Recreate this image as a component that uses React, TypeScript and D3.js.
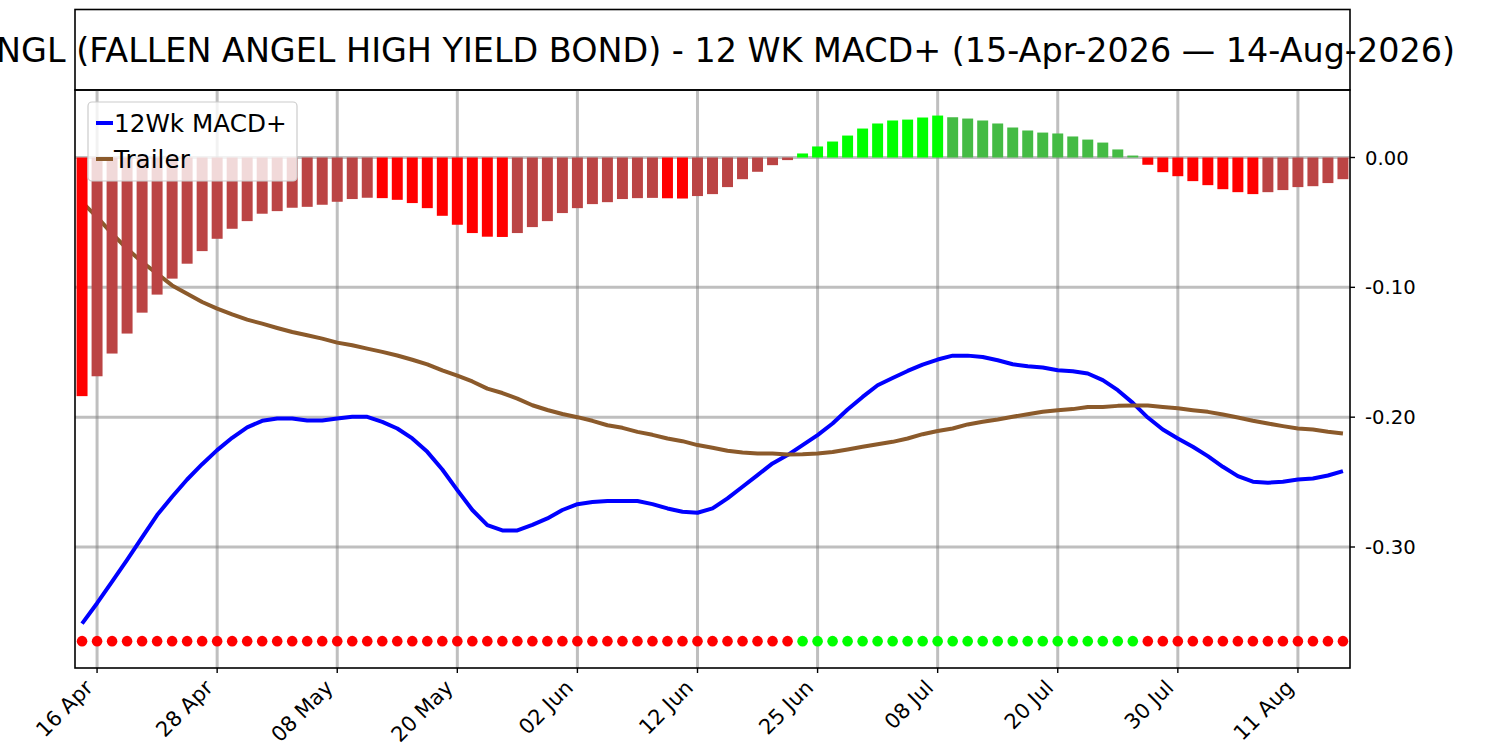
import React from "react"
import * as d3 from "d3"

// trading days, 15-Apr-2026 .. 14-Aug-2026
const days: string[] = [
  "2026-04-15","2026-04-16","2026-04-17","2026-04-20","2026-04-21","2026-04-22","2026-04-23","2026-04-24","2026-04-27","2026-04-28","2026-04-29","2026-04-30",
  "2026-05-01","2026-05-04","2026-05-05","2026-05-06","2026-05-07","2026-05-08","2026-05-11","2026-05-12","2026-05-13","2026-05-14","2026-05-15","2026-05-18","2026-05-19","2026-05-20","2026-05-21","2026-05-22","2026-05-26","2026-05-27","2026-05-28","2026-05-29",
  "2026-06-01","2026-06-02","2026-06-03","2026-06-04","2026-06-05","2026-06-08","2026-06-09","2026-06-10","2026-06-11","2026-06-12","2026-06-15","2026-06-16","2026-06-17","2026-06-18","2026-06-22","2026-06-23","2026-06-24","2026-06-25","2026-06-26","2026-06-29","2026-06-30",
  "2026-07-01","2026-07-02","2026-07-06","2026-07-07","2026-07-08","2026-07-09","2026-07-10","2026-07-13","2026-07-14","2026-07-15","2026-07-16","2026-07-17","2026-07-20","2026-07-21","2026-07-22","2026-07-23","2026-07-24","2026-07-27","2026-07-28","2026-07-29","2026-07-30","2026-07-31",
  "2026-08-03","2026-08-04","2026-08-05","2026-08-06","2026-08-07","2026-08-10","2026-08-11","2026-08-12","2026-08-13","2026-08-14",
]

const tickDays = ["2026-04-16","2026-04-28","2026-05-08","2026-05-20","2026-06-02","2026-06-12","2026-06-25","2026-07-08","2026-07-20","2026-07-30","2026-08-11"]
const yTicks = [0, -0.1, -0.2, -0.3]

const histogram = [
  -0.1838,-0.1685,-0.151,-0.1356,-0.1195,-0.1056,-0.0933,-0.0818,-0.0721,-0.0626,
  -0.0549,-0.049,-0.0433,-0.0413,-0.0387,-0.038,-0.0364,-0.0341,-0.032,-0.031,
  -0.0313,-0.0326,-0.0351,-0.039,-0.0449,-0.0518,-0.0582,-0.061,-0.0612,-0.0582,
  -0.0536,-0.049,-0.0428,-0.039,-0.0359,-0.0344,-0.032,-0.0313,-0.0311,-0.0314,
  -0.0316,-0.0297,-0.0282,-0.0228,-0.0167,-0.011,-0.0059,-0.002,0.0031,0.0085,
  0.0123,0.0169,0.0223,0.0262,0.0285,0.0292,0.0308,0.0323,0.031,0.03,
  0.0285,0.0262,0.0231,0.0208,0.0192,0.0185,0.0162,0.0138,0.0115,0.0062,
  0.0015,-0.0056,-0.0113,-0.0144,-0.0182,-0.0213,-0.0244,-0.0267,-0.0282,-0.0267,
  -0.0251,-0.0228,-0.0221,-0.0197,-0.0167,
]

const macd = [
  -0.359,-0.3433,-0.3267,-0.31,-0.2926,-0.2754,-0.2613,-0.248,-0.2362,-0.2254,
  -0.2159,-0.2079,-0.2028,-0.201,-0.201,-0.2026,-0.2026,-0.201,-0.1997,-0.1997,
  -0.2036,-0.2087,-0.2164,-0.2267,-0.2403,-0.2562,-0.2715,-0.2831,-0.2872,-0.2872,
  -0.283,-0.278,-0.2715,-0.267,-0.2654,-0.2646,-0.2646,-0.2646,-0.267,-0.2703,
  -0.2728,-0.2736,-0.2703,-0.2626,-0.2536,-0.2446,-0.2356,-0.2292,-0.2215,-0.2138,
  -0.2049,-0.1941,-0.1844,-0.1754,-0.1698,-0.1644,-0.1595,-0.1556,-0.1526,-0.1526,
  -0.1536,-0.1562,-0.1592,-0.1608,-0.1618,-0.1638,-0.1646,-0.1664,-0.1715,-0.1792,
  -0.189,-0.2003,-0.2095,-0.2164,-0.2228,-0.23,-0.2382,-0.2454,-0.2497,-0.2505,
  -0.2497,-0.248,-0.2472,-0.2449,-0.2415,
]

const trailer = [
  -0.0344,-0.0459,-0.0587,-0.0703,-0.0805,-0.0895,-0.0985,-0.1049,-0.1113,-0.1164,
  -0.1208,-0.1249,-0.128,-0.1313,-0.1344,-0.1369,-0.1395,-0.1426,-0.1446,-0.1472,
  -0.1497,-0.1525,-0.1558,-0.1594,-0.164,-0.168,-0.1725,-0.178,-0.1814,-0.1857,
  -0.1908,-0.1945,-0.1976,-0.2,-0.2028,-0.2062,-0.2082,-0.2113,-0.2136,-0.2164,
  -0.2185,-0.2215,-0.2236,-0.2259,-0.2272,-0.228,-0.228,-0.2287,-0.2285,-0.228,
  -0.2269,-0.2249,-0.2228,-0.2208,-0.219,-0.2164,-0.2131,-0.2106,-0.2087,-0.2056,
  -0.2036,-0.2018,-0.1997,-0.1977,-0.1959,-0.1946,-0.1938,-0.1921,-0.1921,-0.1913,
  -0.191,-0.191,-0.1921,-0.1931,-0.1946,-0.1959,-0.198,-0.2003,-0.2028,-0.2049,
  -0.2069,-0.2087,-0.2095,-0.2113,-0.2126,
]

const dotLevel = -0.3725
const title = "FANGL (FALLEN ANGEL HIGH YIELD BOND) - 12 WK MACD+ (15-Apr-2026 \u2014 14-Aug-2026)"

const W = 1500
const H = 750
const left = 75
const right = 1350
const top = 90
const bottom = 668
const font = "DejaVu Sans, sans-serif"

const fmtTick = d3.timeFormat("%d %b")
const fmtY = (v: number) => d3.format(".2f")(v).replace("\u2212", "-")

const barColor = (v: number, i: number) => {
  const prev = i > 0 ? histogram[i - 1] : 0
  if (v >= 0) return v > prev || i === 0 ? "#00ff00" : "#44bb44"
  return v < prev || i === 0 ? "#ff0000" : "#bb4444"
}

const App: React.FC = () => {
  const n = days.length
  const x = d3.scaleLinear().domain([-0.47, n - 1 + 0.47]).range([left, right])
  const y = d3.scaleLinear().domain([-0.3, 0]).range([547, 157.5])
  const bw = (x(1) - x(0)) * 0.73

  const line = d3.line<number>()
    .x((d, i) => x(i))
    .y(d => y(d))

  const ticks = tickDays.map(t => days.indexOf(t))
  const parse = d3.timeParse("%Y-%m-%d")

  return (
    <svg width={W} height={H} style={{ position: "absolute", left: 0, top: 0 }} fontFamily={font}>
      <rect x={0} y={0} width={W} height={H} fill="white" />

      {/* title box */}
      <rect x={left} y={9.5} width={right - left} height={top - 9.5} fill="white" stroke="black" strokeWidth={1.6} />
      <text x={706} y={61.5} textAnchor="middle" fontSize={33.4} fill="black">{title}</text>

      <defs>
        <clipPath id="plot">
          <rect x={left} y={top} width={right - left} height={bottom - top} />
        </clipPath>
      </defs>

      <g clipPath="url(#plot)">
        {/* grid */}
        {ticks.map(i => (
          <line key={"gx" + i} x1={x(i)} x2={x(i)} y1={top} y2={bottom} stroke="#808080" strokeOpacity={0.5} strokeWidth={3} />
        ))}
        {yTicks.map(t => (
          <line key={"gy" + t} x1={left} x2={right} y1={y(t)} y2={y(t)} stroke="#808080" strokeOpacity={0.5} strokeWidth={3} />
        ))}

        <path d={line(macd) || ""} fill="none" stroke="#0000ff" strokeWidth={4} strokeLinejoin="round" />
        <path d={line(trailer) || ""} fill="none" stroke="#8b5a2b" strokeWidth={4} strokeLinejoin="round" />

        {histogram.map((v, i) => (
          <rect key={"b" + i} x={x(i) - bw / 2} width={bw}
            y={Math.min(y(v), y(0))} height={Math.abs(y(v) - y(0))}
            fill={barColor(v, i)} />
        ))}

        {histogram.map((v, i) => (
          <circle key={"d" + i} cx={x(i)} cy={y(dotLevel)} r={5.3} fill={v > 0 ? "#00ff00" : "#ff0000"} />
        ))}
      </g>

      {/* spines */}
      <rect x={left} y={top} width={right - left} height={bottom - top} fill="none" stroke="black" strokeWidth={1.6} />

      {/* x ticks */}
      {ticks.map(i => (
        <g key={"xt" + i}>
          <line x1={x(i)} x2={x(i)} y1={bottom} y2={bottom + 5} stroke="black" strokeWidth={1.4} />
          <text transform={`translate(${x(i) - 3},${bottom + 21}) rotate(-45)`} textAnchor="end" fontSize={21} fill="black">
            {fmtTick(parse(days[i]) as Date)}
          </text>
        </g>
      ))}

      {/* y ticks, right side */}
      {yTicks.map(t => (
        <g key={"yt" + t}>
          <line x1={right} x2={right + 5} y1={y(t)} y2={y(t)} stroke="black" strokeWidth={1.4} />
          <text x={right + 15} y={y(t)} dy="0.36em" fontSize={19.6} fill="black">{fmtY(t)}</text>
        </g>
      ))}

      {/* legend */}
      <rect x={88} y={102} width={209} height={79} rx={4} fill="white" fillOpacity={0.8} stroke="#cccccc" strokeWidth={1.2} />
      <line x1={96} x2={113} y1={123} y2={123} stroke="#0000ff" strokeWidth={4} />
      <text x={114} y={132} fontSize={24.7} fill="black">12Wk MACD+</text>
      <line x1={96} x2={113} y1={159} y2={159} stroke="#8b5a2b" strokeWidth={4} />
      <text x={114} y={168} fontSize={24.7} fill="black">Trailer</text>
    </svg>
  )
}

export default App
